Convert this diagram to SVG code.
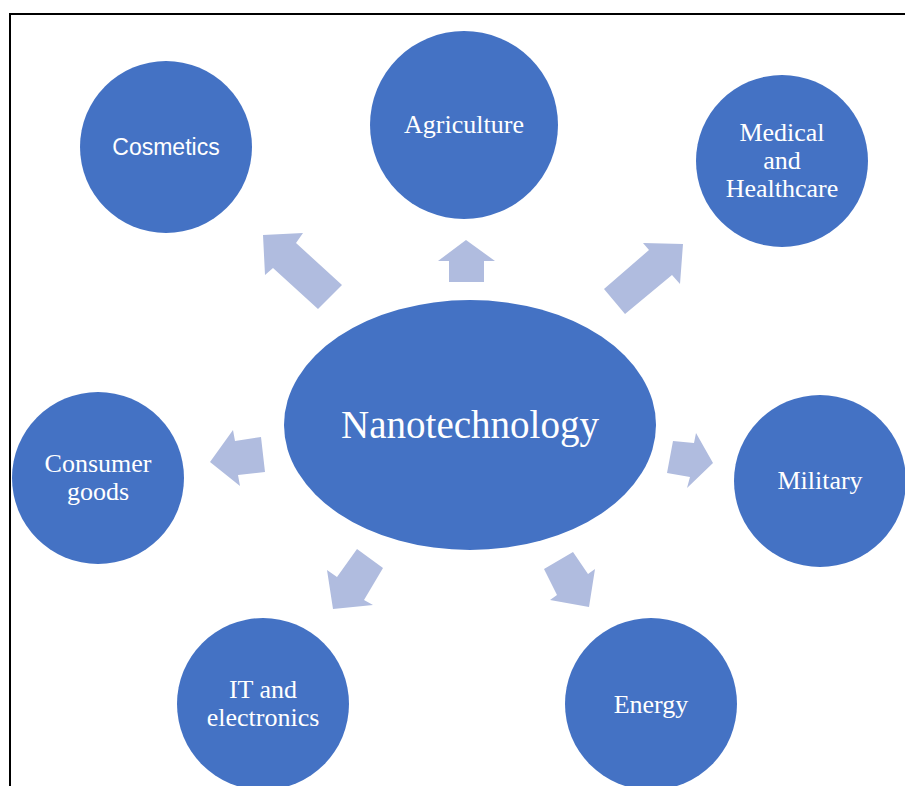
<svg xmlns="http://www.w3.org/2000/svg" width="905" height="786" viewBox="0 0 905 786">
<style>
.n{fill:#4472C4}
.a{fill:#B0BCDF}
.t{fill:#fff;font-family:"Liberation Serif",serif;font-size:26px;text-anchor:middle}
.s{fill:#fff;font-family:"Liberation Sans",sans-serif;font-size:23px;text-anchor:middle}
</style>
<rect width="905" height="786" fill="#fff"/>
<path d="M10,786 V14 H905" fill="none" stroke="#000" stroke-width="2"/>
<g id="connectors">
<polygon class="a" points="263,235 303,233 296,243 342,285 318,309 273,268 265,275"/>
<polygon class="a" points="466,240 495,261 484,261 484,282 449,282 449,261 438,261"/>
<polygon class="a" points="683,244 643,243 649,250 604,289 625,314 672,275 680,284"/>
<polygon class="a" points="210,462 233,430 235,441 261,437 265,472 238,475 240,486"/>
<polygon class="a" points="713,463 696,433 694,443 673,441 667,473 690,477 687,488"/>
<polygon class="a" points="333,609 327,570 337,577 357,549 383,568 364,600 373,605"/>
<polygon class="a" points="589,607 595,569 588,574 573,552 544,569 557,595 550,600"/>
</g>
<g id="nanotechnology">
<ellipse class="n" cx="470" cy="425" rx="186" ry="125"/>
<text class="t" x="470" y="438" style="font-size:39px">Nanotechnology</text>
</g>
<g id="cosmetics">
<circle class="n" cx="166" cy="147" r="86"/>
<text class="s" x="166" y="155">Cosmetics</text>
</g>
<g id="agriculture">
<circle class="n" cx="464" cy="125" r="94"/>
<text class="t" x="464" y="133">Agriculture</text>
</g>
<g id="medical">
<circle class="n" cx="782" cy="161" r="86"/>
<text class="t" x="782" y="141">Medical</text>
<text class="t" x="782" y="169">and</text>
<text class="t" x="782" y="197">Healthcare</text>
</g>
<g id="consumer">
<circle class="n" cx="98" cy="478" r="86"/>
<text class="t" x="98" y="472">Consumer</text>
<text class="t" x="98" y="500">goods</text>
</g>
<g id="military">
<circle class="n" cx="820" cy="481" r="86"/>
<text class="t" x="820" y="489">Military</text>
</g>
<g id="it">
<circle class="n" cx="263" cy="704" r="86"/>
<text class="t" x="263" y="698">IT and</text>
<text class="t" x="263" y="726">electronics</text>
</g>
<g id="energy">
<circle class="n" cx="651" cy="704" r="86"/>
<text class="t" x="651" y="713">Energy</text>
</g>
</svg>
